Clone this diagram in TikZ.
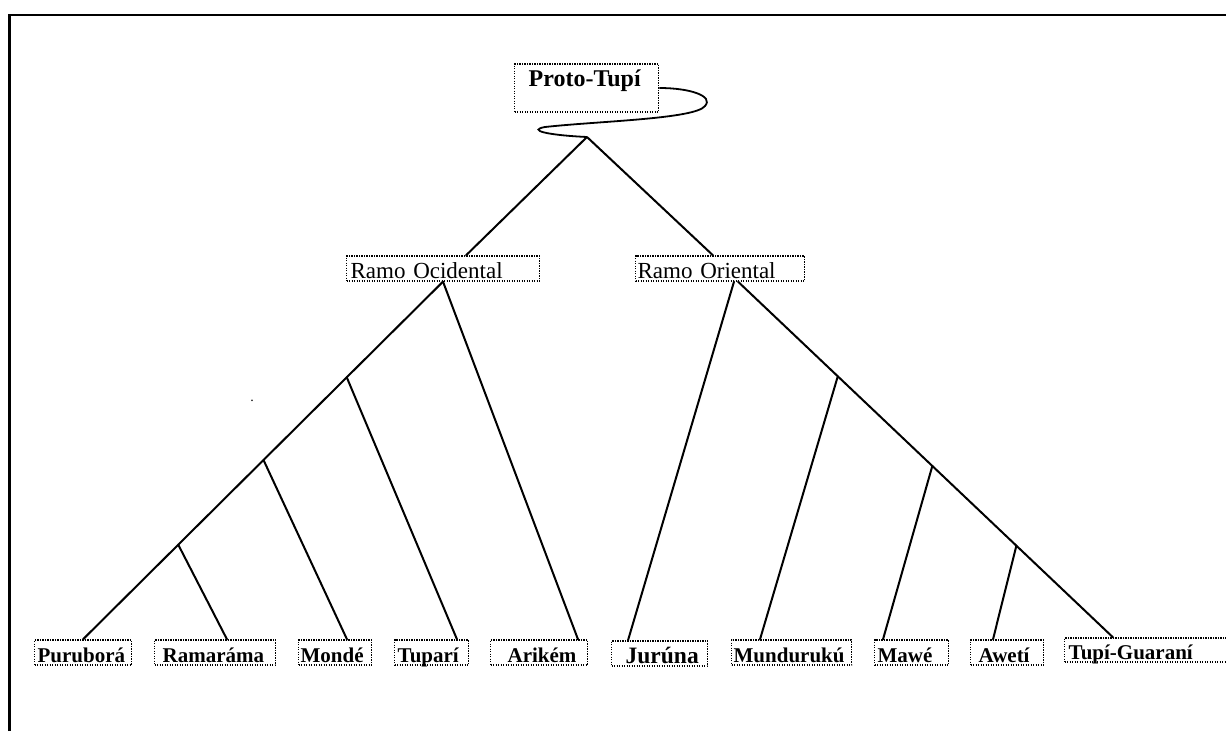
\documentclass[tikz,border=0pt]{standalone}
\usepackage{fontspec}
\setmainfont{Liberation Serif}
\usetikzlibrary{calc}
\tikzset{
  dotbox/.style={draw, line width=1.3pt, dash pattern=on 1.2pt off 1.3pt, inner xsep=2pt, inner ysep=0pt,
    align=left, anchor=base west},
  leaf/.style={dotbox, text height=22pt, text depth=3pt, font=\fontsize{21}{24}\selectfont\bfseries},
  ramo/.style={dotbox, text height=22pt, text depth=3pt, font=\fontsize{23}{26}\selectfont},
  root/.style={dotbox, text height=22pt, text depth=26pt, font=\fontsize{24}{27}\selectfont\bfseries},
  branch/.style={line width=2pt, line cap=round, line join=round},
  frame/.style={line width=2.5pt},
}
\begin{document}
\begin{tikzpicture}[x=1pt,y=-1pt]
\useasboundingbox (0,0) rectangle (1226,731);
\draw[frame] (9.5,731) -- (9.5,15) -- (1226,15);

% root and branches
\node[root, text width=140pt] (proto) at (514,86) {\hspace*{12pt}Proto-Tupí};
\node[ramo, text width=189pt] (rocc) at (346,278) {\hspace*{2pt}Ramo Ocidental};
\node[ramo, text width=165pt] (rori) at (635,278) {Ramo Oriental};

% leaves
\node[leaf, text width=93pt]  (pur) at (34,662)  {\hspace*{1pt}Puruborá};
\node[leaf, text width=117pt] (ram) at (154,662) {\hspace*{6pt}Ramaráma};
\node[leaf, text width=69pt]  (mon) at (298,662) {Mondé};
\node[leaf, text width=70pt]  (tup) at (394,662) {\hspace*{1pt}Tuparí};
\node[leaf, text width=93pt]  (ari) at (490,662) {\hspace*{15pt}Arikém};
\node[leaf, text width=92pt, font=\fontsize{23.5}{26}\selectfont\bfseries] (jur) at (611,663) {\hspace*{12pt}Jurúna};
\node[leaf, text width=116pt] (mun) at (731,662) {Mundurukú};
\node[leaf, text width=70pt]  (maw) at (874,662) {\hspace*{1pt}Mawé};
\node[leaf, text width=69pt]  (awe) at (970,662) {\hspace*{6pt}Awetí};
\node[leaf, text width=180pt, text height=21pt] (tg) at (1064,659) {\hspace*{2pt}Tupí-Guaraní};

\node[font=\fontsize{14}{16}\selectfont, anchor=base, inner sep=0pt] (dot) at (252,401) {.};

% attachment points
\coordinate (apex) at (587,137);
\coordinate (occT) at ($(rocc.north west)+(120,0)$);
\coordinate (occB) at ($(rocc.south west)+(97,0)$);
\coordinate (oriT) at ($(rori.north west)+(78,0)$);
\coordinate (oriB) at ($(rori.south west)+(99,0)$);
\coordinate (oriB2) at ($(rori.south west)+(103,0)$);

\coordinate (purE) at ($(pur.north west)+(49,0)$);
\coordinate (ramE) at ($(ram.north west)+(73,0)$);
\coordinate (monE) at ($(mon.north west)+(49,0)$);
\coordinate (tupE) at ($(tup.north west)+(63,0)$);
\coordinate (ariE) at ($(ari.north west)+(88,0)$);
\coordinate (jurE) at ($(jur.north west)+(17,0)$);
\coordinate (munE) at ($(mun.north west)+(29,0)$);
\coordinate (mawE) at ($(maw.north west)+(9,0)$);
\coordinate (aweE) at ($(awe.north west)+(23,0)$);
\coordinate (tgE)  at ($(tg.north west)+(49,0)$);

\coordinate (jTup) at ($(occB)!0.2674!(purE)$);
\coordinate (jMon) at ($(occB)!0.4986!(purE)$);
\coordinate (jRam) at ($(occB)!0.7354!(purE)$);
\coordinate (jMun) at ($(oriB2)!0.2661!(tgE)$);
\coordinate (jMaw) at ($(oriB2)!0.5182!(tgE)$);
\coordinate (jAwe) at ($(oriB2)!0.7423!(tgE)$);

% curl
\draw[line width=1.8pt] (proto.east) .. controls (690,88) and (714,96) .. (705,106)
  .. controls (695,119) and (600,121) .. (545,127)
  .. controls (528,130) and (545,135) .. (apex);

% tree
\draw[branch] (occT) -- (apex) -- (oriT);
\draw[branch] (occB) -- (purE);
\draw[branch] (occB) -- (ariE);
\draw[branch] (jTup) -- (tupE);
\draw[branch] (jMon) -- (monE);
\draw[branch] (jRam) -- (ramE);
\draw[branch] (oriB2) -- (tgE);
\draw[branch] (oriB) -- (jurE);
\draw[branch] (jMun) -- (munE);
\draw[branch] (jMaw) -- (mawE);
\draw[branch] (jAwe) -- (aweE);
\end{tikzpicture}
\end{document}
